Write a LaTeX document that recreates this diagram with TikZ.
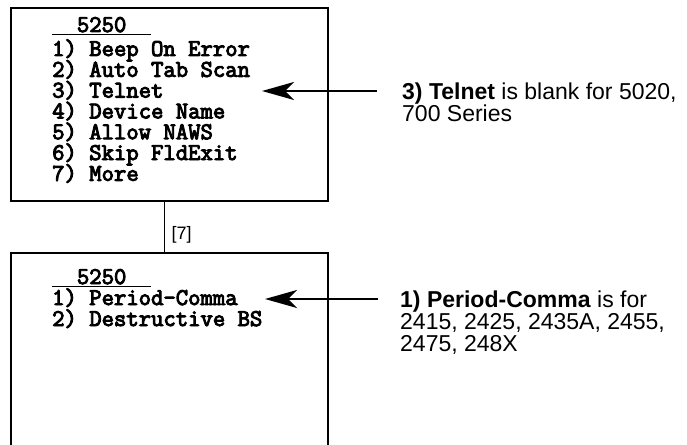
\documentclass[tikz,border=0pt]{standalone}
\usepackage{fontspec}
\setmainfont{Liberation Sans}
\newfontfamily\termfont[FakeBold=4]{Latin Modern Mono}
\usetikzlibrary{positioning, arrows.meta}

\begin{document}
\begin{tikzpicture}[
    x=1pt, y=-1pt,
    screen/.style={rectangle, draw=black, line width=1.8pt, minimum width=317pt, anchor=north west, inner sep=0pt},
    menu/.style={font=\termfont\fontsize{24}{24}\selectfont, anchor=base west, inner sep=0pt},
    note/.style={font=\fontsize{23}{22}\selectfont, anchor=base west, inner sep=0pt},
    pointer/.style={-{Stealth[length=32pt, width=18pt, inset=9pt]}, line width=2pt}
]
    \useasboundingbox (0,0) rectangle (687,444);

    % Screens
    \node[screen, minimum height=193pt] (Main) at (10,7)   {};
    \node[screen, minimum height=230pt] (Next) at (10,252) {};

    % Main menu
    \node[menu, text depth=2.5pt] (MainHdr) at (52,32) {\phantom{00}5250\phantom{00}};
    \draw[line width=1.5pt] (MainHdr.south west) -- (MainHdr.south east);
    \foreach \i/\item in {1/Beep On Error, 2/Auto Tab Scan, 3/Telnet, 4/Device Name,
                          5/Allow NAWS, 6/Skip FldExit, 7/More}
        \node[menu] (MainItem\i) at (52, {56+20.8*(\i-1)}) {\i) \item};

    % Second menu
    \node[menu, text depth=2.5pt] (NextHdr) at (52,284) {\phantom{00}5250\phantom{00}};
    \draw[line width=1.5pt] (NextHdr.south west) -- (NextHdr.south east);
    \node[menu] (NextItem1) at (52,305) {1) Period-Comma};
    \node[menu] (NextItem2) at (52,326) {2) Destructive BS};

    % Link between screens
    \draw[line width=1.8pt] ([xshift=-5pt]Main.south) -- node[right, pos=0.65, xshift=3pt, font=\fontsize{18}{18}\selectfont] (Key) {[7]} ([xshift=-5pt]Next.north);

    % Notes
    \node[note] (TelnetNote)  at (402,99)  {\textbf{3) Telnet} is blank for 5020,};
    \node[note] (TelnetNote2) at (402,121) {700 Series};
    \node[note] (CommaNote)   at (400,307) {\textbf{1) Period-Comma} is for};
    \node[note] (CommaNote2)  at (400,329) {2415, 2425, 2435A, 2455,};
    \node[note] (CommaNote3)  at (400,351) {2475, 248X};

    % Pointers
    \coordinate (TelnetTail) at (377,91);
    \coordinate (TelnetTip)  at (262,91);
    \coordinate (CommaTail)  at (378,299);
    \coordinate (CommaTip)   at (265,299);
    \draw[pointer] (TelnetTail) -- (TelnetTip);
    \draw[pointer] (CommaTail) -- (CommaTip);

\end{tikzpicture}
\end{document}
